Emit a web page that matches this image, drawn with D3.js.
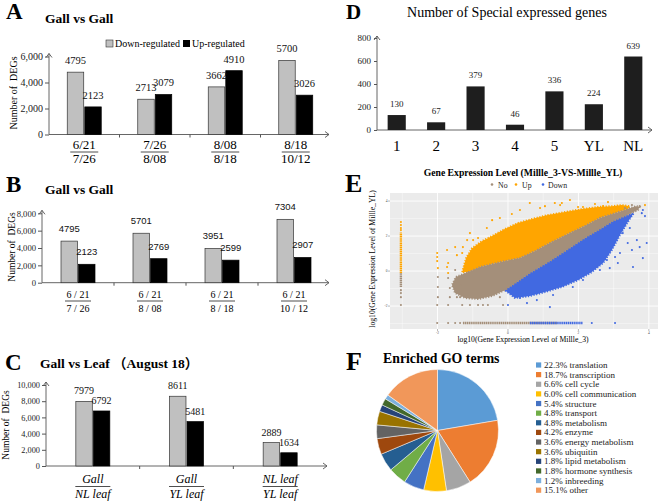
<!DOCTYPE html>
<html><head><meta charset="utf-8">
<script src="https://cdn.jsdelivr.net/npm/d3@7/dist/d3.min.js"></script>
<style>body{margin:0;background:#fff}svg{display:block}</style>
</head><body><svg id="c" width="660" height="503"></svg>
<script>
// ---------------- DATA ----------------
const aCats = [["6/21","7/26"],["7/26","8/08"],["8/08","8/18"],["8/18","10/12"]];
const aDown = [4795,2713,3662,5700];
const aUp   = [2123,3079,4910,3026];
const aTicks = [0,2000,4000,6000];

const bCats = [["6 / 21","7 / 26"],["6 / 21","8 / 08"],["6 / 21","8 / 18"],["6 / 21","10 / 12"]];
const bDown = [4795,5701,3951,7304];
const bUp   = [2123,2769,2599,2907];
const bTicks = [0,2000,4000,6000,8000];

const cCats = [["Gall","NL leaf"],["Gall","YL leaf"],["NL leaf","YL leaf"]];
const cDown = [7979,8611,2889];
const cUp   = [6792,5481,1634];
const cTicks = [0,2000,4000,6000,8000,10000];

const dCats = ["1","2","3","4","5","YL","NL"];
const dValues = [130,67,379,46,336,224,639];
const dTicks = [0,200,400,600,800];

// E: scatter (log10 expression); dense clouds as outlines, sparse points listed
const eXTicks = [-2,0,2,4];
const eYTicks = [-2,0,2,4];
const eUpCloud = [[-1.30,-0.06],[-1.19,0.74],[-1.02,1.31],[-0.74,1.71],[-0.45,2.00],[-0.09,2.40],[0.28,2.74],[0.68,2.97],[1.13,3.20],[1.62,3.37],[2.10,3.54],[2.55,3.66],[2.95,3.71],[3.23,3.77],[3.46,3.71],[3.40,3.54],[3.04,3.31],[2.61,3.03],[2.18,2.57],[1.76,2.17],[1.19,1.60],[0.77,1.14],[0.34,0.74],[-0.23,0.51],[-0.79,0.23],[-1.13,-0.06]];
const eNoCloud = [[-1.13,-0.06],[-0.79,0.23],[-0.23,0.51],[0.34,0.74],[0.77,1.14],[1.19,1.60],[1.76,2.17],[2.18,2.57],[2.61,3.03],[3.04,3.31],[3.40,3.54],[3.63,3.71],[3.74,3.66],[3.69,3.49],[3.32,3.14],[2.98,2.86],[2.61,2.40],[2.18,1.89],[1.62,1.14],[1.19,0.57],[0.62,-0.11],[0.20,-0.69],[-0.09,-1.09],[-0.45,-1.43],[-0.85,-1.60],[-1.22,-1.54],[-1.50,-1.26],[-1.59,-0.80],[-1.48,-0.34]];
const eDownCloud = [[-0.09,-1.09],[0.20,-0.69],[0.62,-0.11],[1.19,0.57],[1.62,1.14],[2.18,1.89],[2.61,2.40],[2.98,2.86],[3.32,3.14],[3.57,3.31],[3.40,2.80],[3.18,2.06],[2.95,1.20],[2.70,0.46],[2.38,-0.06],[1.99,-0.51],[1.53,-0.91],[1.05,-1.20],[0.62,-1.43],[0.20,-1.54]];
const eUpPts = [[1.76,4.06],[0.11,3.26],[-0.45,2.91],[-0.60,2.46],[-1.16,1.77],[-1.50,1.37],[-1.73,1.20],[-1.45,0.91],[-1.70,0.46],[-1.73,0.23],[0.91,3.60],[1.33,3.89],[0.62,3.89],[2.13,3.66],[2.70,3.71],[3.09,3.66],[-0.85,1.89],[-1.28,1.37],[-2.01,1.03],[-2.01,0.80],[-2.01,0.57],[-1.99,0.17],[-1.70,-0.11],[-1.08,2.17],[-0.23,3.03],[0.34,3.49],[1.05,3.71],[2.47,3.83],[3.89,3.77],[2.84,3.94],[1.48,3.77],[1.53,3.89],[2.89,3.37],[1.99,3.66],[-0.99,1.77],[-1.30,1.03],[-3.04,2.80],[-3.04,2.63],[-3.04,2.46],[-3.04,2.34]];
const eNoPts = [[-1.70,-0.40],[-1.50,0.06],[-1.28,-0.34],[-1.36,-0.80],[-1.65,-0.97],[-1.99,-0.34],[-1.99,-0.91],[-1.99,-1.49],[-1.36,-1.49],[-0.71,-1.49],[-0.23,-1.49],[-1.65,-1.49],[-1.45,-1.49],[-1.08,-1.94],[-0.71,-1.94],[-0.57,-1.94],[-0.14,-1.94],[-1.70,-1.94],[-2.01,-1.94],[-1.30,-1.94],[-0.85,-1.94],[3.74,3.71],[3.32,3.60],[3.52,3.77],[-3.04,-1.09],[-3.04,-1.26],[-3.04,-1.49],[-3.04,-1.94],[-2.01,-2.97],[-1.70,-2.97],[-1.50,-2.97],[-1.36,-2.97]];
const eDownPts = [[3.80,3.31],[3.83,3.49],[3.46,3.09],[3.66,1.77],[3.83,0.74],[3.55,0.23],[3.40,1.60],[3.18,1.03],[3.12,0.46],[2.89,0.17],[2.61,0.06],[2.13,-0.51],[1.84,-0.91],[1.28,-1.37],[0.82,-1.26],[0.34,-1.54],[3.94,1.60],[3.74,1.37],[3.04,0.80],[3.26,2.17],[2.81,0.63],[1.19,-2.06],[0.82,-1.66],[0.54,-1.83],[0.00,-1.94],[3.89,3.14],[3.46,2.46],[3.52,1.20],[2.38,-2.97],[3.04,-2.97]];
// dense strips: [x0, x1, y0, y1, group]
const eStrips = [[-3.04,-3.04,-0.11,2.20,"Up"],[-3.04,-3.04,-0.91,-0.11,"No"],[-1.28,1.39,-2.97,-2.97,"No"],[0.62,2.13,-2.97,-2.97,"Down"]];

const goLabels = ["translation","transcription","cell cycle","cell communication","structure","transport","metabolism","enzyme","energy metabolism","ubiquitin","lipid metabolism","hormone synthesis","inbreeding","other"];
const goPct = [22.3,18.7,6.6,6.0,5.4,4.8,4.8,4.2,3.6,3.6,1.8,1.8,1.2,15.1];
const goColors = ["#5B9BD5","#ED7D31","#A5A5A5","#FFC000","#4472C4","#70AD47","#255E91","#9E480E","#636363","#997300","#264478","#43682B","#7CAFDD","#F1975A"];

// ---------------- DRAW ----------------
const serif = "'Liberation Serif','Times New Roman','Noto Sans CJK SC',serif";
const sans = "'Liberation Sans',Arial,sans-serif";
const axisCol = "#555";
const svg = d3.select("#c");

function txt(g, x, y, s, o={}) {
  return g.append("text").attr("x",x).attr("y",y).text(s)
    .attr("font-family", o.ff||serif).attr("font-size", o.fs||10)
    .attr("font-weight", o.fw||"normal").attr("font-style", o.st||"normal")
    .attr("text-anchor", o.anchor||"start").attr("fill", o.fill||"#000");
}

function axesWithArrows(g, x0, y0, yTop, xEnd) {
  g.append("line").attr("x1",x0).attr("x2",x0).attr("y1",y0).attr("y2",yTop).attr("stroke",axisCol).attr("stroke-width",0.9);
  g.append("polyline").attr("points",`${x0-3},${yTop+4} ${x0},${yTop} ${x0+3},${yTop+4}`).attr("fill","none").attr("stroke",axisCol).attr("stroke-width",0.9);
  g.append("line").attr("x1",x0).attr("x2",xEnd).attr("y1",y0).attr("y2",y0).attr("stroke",axisCol).attr("stroke-width",0.9);
  g.append("polyline").attr("points",`${xEnd-4},${y0-3} ${xEnd},${y0} ${xEnd-4},${y0+3}`).attr("fill","none").attr("stroke",axisCol).attr("stroke-width",0.9);
}

function barPanel(o) {
  const g = svg.append("g");
  const n = o.down.length;
  const x = d3.scaleBand().domain(d3.range(n)).range(o.xr);
  const y = d3.scaleLinear().domain([0, o.ymax]).range(o.yr);
  const bw = x.bandwidth();
  const xs = d3.scaleBand().domain(["down","up"]).range([bw/2 - o.pair/2, bw/2 + o.pair/2]).paddingInner(0.06);
  const x0 = o.xr[0], y0 = y(0);
  const ya = g.append("g").attr("transform",`translate(${x0},0)`)
    .call(d3.axisLeft(y).tickValues(o.ticks).tickFormat(d3.format(",")).tickSize(4).tickSizeOuter(0));
  ya.select(".domain").remove();
  ya.selectAll("line").attr("stroke",axisCol);
  ya.selectAll("text").attr("font-family",serif).attr("font-size",o.tickFs).attr("fill","#222").attr("x",-6);
  axesWithArrows(g, x0, y0, y(o.ymax) - 3, o.xEnd);
  g.selectAll(".bt").data(d3.range(1,n)).join("line")
    .attr("x1",d=>x(d)).attr("x2",d=>x(d)).attr("y1",y0).attr("y2",y0+3).attr("stroke",axisCol);
  const data = d3.range(n).flatMap(i => [{i,k:"down",v:o.down[i]},{i,k:"up",v:o.up[i]}]);
  g.selectAll(".bar").data(data).join("rect")
    .attr("x",d=>x(d.i)+xs(d.k)).attr("width",xs.bandwidth())
    .attr("y",d=>y(d.v)).attr("height",d=>y0-y(d.v))
    .attr("fill",d=>d.k==="down"?"#C0C0C0":"#000")
    .attr("stroke",d=>d.k==="down"?"#333":"#000").attr("stroke-width",0.7);
  data.forEach(d => {
    txt(g, x(d.i)+xs(d.k)+xs.bandwidth()/2, y(d.v)-o.valGap, String(d.v), {fs:o.valFs, ff:o.valFf||serif, anchor:"middle", fill:"#111"});
  });
  o.cats.forEach((c,i) => {
    const cx = x(i) + bw/2;
    txt(g, cx, o.lab[0], c[0], {fs:o.labFs, st:o.italic?"italic":"normal", anchor:"middle"});
    g.append("line").attr("x1",cx-o.lineW/2).attr("x2",cx+o.lineW/2).attr("y1",o.lab[1]).attr("y2",o.lab[1]).attr("stroke","#222").attr("stroke-width",0.8);
    txt(g, cx, o.lab[2], c[1], {fs:o.labFs, st:o.italic?"italic":"normal", anchor:"middle"});
  });
  g.append("text").attr("transform",`translate(${o.yt[0]},${o.yt[1]}) rotate(-90)`)
    .attr("text-anchor","middle").attr("font-family",serif).attr("font-size",o.ytFs).text("Number of  DEGs").style("white-space","pre");
  return g;
}

// Panel A
txt(svg, 6, 19, "A", {fs:23, fw:"bold"});
txt(svg, 45, 23, "Gall vs Gall", {fs:13.5, fw:"bold"});
svg.append("rect").attr("x",106).attr("y",40).attr("width",7).attr("height",7).attr("fill","#C0C0C0").attr("stroke","#333").attr("stroke-width",0.6);
txt(svg, 115, 46.5, "Down-regulated", {fs:10});
svg.append("rect").attr("x",183).attr("y",40).attr("width",7).attr("height",7).attr("fill","#000");
txt(svg, 192, 46.5, "Up-regulated", {fs:10});
barPanel({cats:aCats, down:aDown, up:aUp, ticks:aTicks, ymax:6000, yr:[134.5,56.5], xr:[49,331], xEnd:329,
  pair:34, tickFs:10, valFs:10.5, valGap:8, labFs:13, lab:[148.5,152,163], lineW:28, yt:[17,93], ytFs:10});

// Panel B
txt(svg, 6, 192, "B", {fs:23, fw:"bold"});
txt(svg, 45, 194, "Gall vs Gall", {fs:13.5, fw:"bold"});
barPanel({cats:bCats, down:bDown, up:bUp, ticks:bTicks, ymax:8000, yr:[282.7,213.3], xr:[42,330], xEnd:329,
  pair:34, tickFs:8.6, valFs:9.5, valFf:sans, valGap:9, labFs:10, lab:[298,301,312], lineW:26, yt:[15,247], ytFs:9.5});

// Panel C
txt(svg, 5, 370, "C", {fs:23, fw:"bold"});
txt(svg, 40, 368, "Gall vs Leaf （August 18）", {fs:13.5, fw:"bold"});
barPanel({cats:cCats, down:cDown, up:cUp, ticks:cTicks, ymax:10000, yr:[466,385], xr:[46,327], xEnd:327,
  pair:34, tickFs:8.3, valFs:10, valGap:7, labFs:12, italic:true, lab:[483,486.5,497.5], lineW:35, yt:[9,425], ytFs:9.5});

// Panel D
(function(){
  const g = svg.append("g");
  txt(g, 346, 19, "D", {fs:21, fw:"bold"});
  txt(g, 507, 17, "Number of Special expressed genes", {fs:14, anchor:"middle"});
  const x = d3.scaleBand().domain(dCats).range([377,653]).paddingInner(0.54).paddingOuter(0.27);
  const y = d3.scaleLinear().domain([0,800]).range([130,38]);
  const ya = g.append("g").attr("transform","translate(377,0)")
    .call(d3.axisLeft(y).tickValues(dTicks).tickSize(3).tickSizeOuter(0));
  ya.select(".domain").remove();
  ya.selectAll("line").attr("stroke",axisCol);
  ya.selectAll("text").attr("font-family",serif).attr("font-size",9).attr("fill","#222").attr("x",-6);
  axesWithArrows(g, 377, y(0), y(800)-2, 652);
  g.selectAll(".db").data(dValues).join("rect")
    .attr("x",(d,i)=>x(dCats[i])).attr("width",x.bandwidth())
    .attr("y",d=>y(d)).attr("height",d=>y(0)-y(d)).attr("fill","#1e1e1e");
  dValues.forEach((v,i)=> txt(g, x(dCats[i])+x.bandwidth()/2, y(v)-8, String(v), {fs:9, anchor:"middle", fill:"#222"}));
  dCats.forEach(c => txt(g, x(c)+x.bandwidth()/2, 151, c, {fs:15, anchor:"middle"}));
})();

// Panel E
(function(){
  const g = svg.append("g");
  txt(g, 345, 192, "E", {fs:26, fw:"bold"});
  txt(g, 523, 176, "Gene Expression Level (Millle_3-VS-Millle_YL)", {fs:9.7, fw:"bold", anchor:"middle"});
  const col = {No:"#A48F7A", Up:"#FFA500", Down:"#4169E1"};
  [["No",492,498],["Up",516,522],["Down",543,548]].forEach(([k,mx,tx])=>{
    g.append("circle").attr("cx",mx).attr("cy",184.5).attr("r",1.3).attr("fill",col[k]);
    txt(g, tx, 187.5, k, {fs:7.8, fill:"#222"});
  });
  const x = d3.scaleLinear().domain([-3.35,4.26]).range([390,658]);
  const y = d3.scaleLinear().domain([-3.31,4.46]).range([329,193]);
  g.append("defs").append("clipPath").attr("id","ec").append("rect")
    .attr("x",390).attr("y",193).attr("width",268).attr("height",136);
  g.append("rect").attr("x",x.range()[0]).attr("y",y.range()[1]).attr("width",x.range()[1]-x.range()[0]).attr("height",y.range()[0]-y.range()[1]).attr("fill","#EBEBEB");
  const minorX = [-3,-1,1,3], minorY = [-3,-1,1,3];
  g.selectAll(".mx").data(minorX).join("line").attr("x1",x).attr("x2",x).attr("y1",193).attr("y2",329).attr("stroke","#fff").attr("stroke-width",0.4);
  g.selectAll(".my").data(minorY).join("line").attr("y1",y).attr("y2",y).attr("x1",390).attr("x2",658).attr("stroke","#fff").attr("stroke-width",0.4);
  g.selectAll(".gx").data(eXTicks).join("line").attr("x1",x).attr("x2",x).attr("y1",193).attr("y2",329).attr("stroke","#fff").attr("stroke-width",0.9);
  g.selectAll(".gy").data(eYTicks).join("line").attr("y1",y).attr("y2",y).attr("x1",390).attr("x2",658).attr("stroke","#fff").attr("stroke-width",0.9);
  const p = g.append("g").attr("clip-path","url(#ec)");
  const line = d3.line().x(d=>x(d[0])).y(d=>y(d[1])).curve(d3.curveLinearClosed);
  [["Up",eUpCloud],["Down",eDownCloud],["No",eNoCloud]].forEach(([k,pts])=>{
    p.append("path").attr("d",line(pts)).attr("fill",col[k]).attr("stroke",col[k]).attr("stroke-width",2).attr("stroke-dasharray","1.2 1.6");
  });
  eStrips.forEach(s => {
    p.append("line").attr("x1",x(s[0])).attr("x2",x(s[1])).attr("y1",y(s[2])).attr("y2",y(s[3]))
      .attr("stroke",col[s[4]]).attr("stroke-width",2.4).attr("stroke-dasharray","1.4 0.5");
  });
  [["No",eNoPts],["Up",eUpPts],["Down",eDownPts]].forEach(([k,pts])=>{
    p.selectAll(".p"+k).data(pts).join("circle").attr("cx",d=>x(d[0])).attr("cy",d=>y(d[1])).attr("r",1.05).attr("fill",col[k]);
  });
  eYTicks.forEach(t => {
    txt(g, 387.5, y(t)+1.2, String(t), {fs:3.5, anchor:"end", fill:"#4d4d4d"});
    g.append("line").attr("x1",388).attr("x2",390).attr("y1",y(t)).attr("y2",y(t)).attr("stroke","#4d4d4d").attr("stroke-width",0.4);
  });
  eXTicks.forEach(t => {
    txt(g, x(t), 334, String(t), {fs:3.5, anchor:"middle", fill:"#4d4d4d"});
    g.append("line").attr("x1",x(t)).attr("x2",x(t)).attr("y1",329).attr("y2",331).attr("stroke","#4d4d4d").attr("stroke-width",0.4);
  });
  g.append("text").attr("transform","translate(375,259) rotate(-90)").attr("text-anchor","middle")
    .attr("font-family",serif).attr("font-size",7.7).text("log10(Gene Expression Level of Millle_YL)");
  txt(g, 523, 342, "log10(Gene Expression Level of Millle_3)", {fs:7.7, anchor:"middle"});
})();

// Panel F
(function(){
  const g = svg.append("g");
  txt(g, 346, 370, "F", {fs:26, fw:"bold"});
  txt(g, 383, 363, "Enriched GO terms", {fs:13.8, fw:"bold"});
  const pie = d3.pie().sort(null).value(d=>d)(goPct);
  const arc = d3.arc().innerRadius(0).outerRadius(61);
  g.append("g").attr("transform","translate(437.5,430.5)").selectAll("path").data(pie).join("path")
    .attr("d",arc).attr("fill",(d,i)=>goColors[i]).attr("stroke","#fff").attr("stroke-width",0.5);
  const ly = d3.scaleLinear().domain([0,13]).range([365,490.2]);
  goLabels.forEach((l,i)=>{
    g.append("rect").attr("x",536).attr("y",ly(i)-2.6).attr("width",5.2).attr("height",5.2).attr("fill",goColors[i]);
    txt(g, 544, ly(i)+3, d3.format(".1f")(goPct[i])+"% "+l, {fs:9, fill:"#222"});
  });
})();
</script></body></html>
